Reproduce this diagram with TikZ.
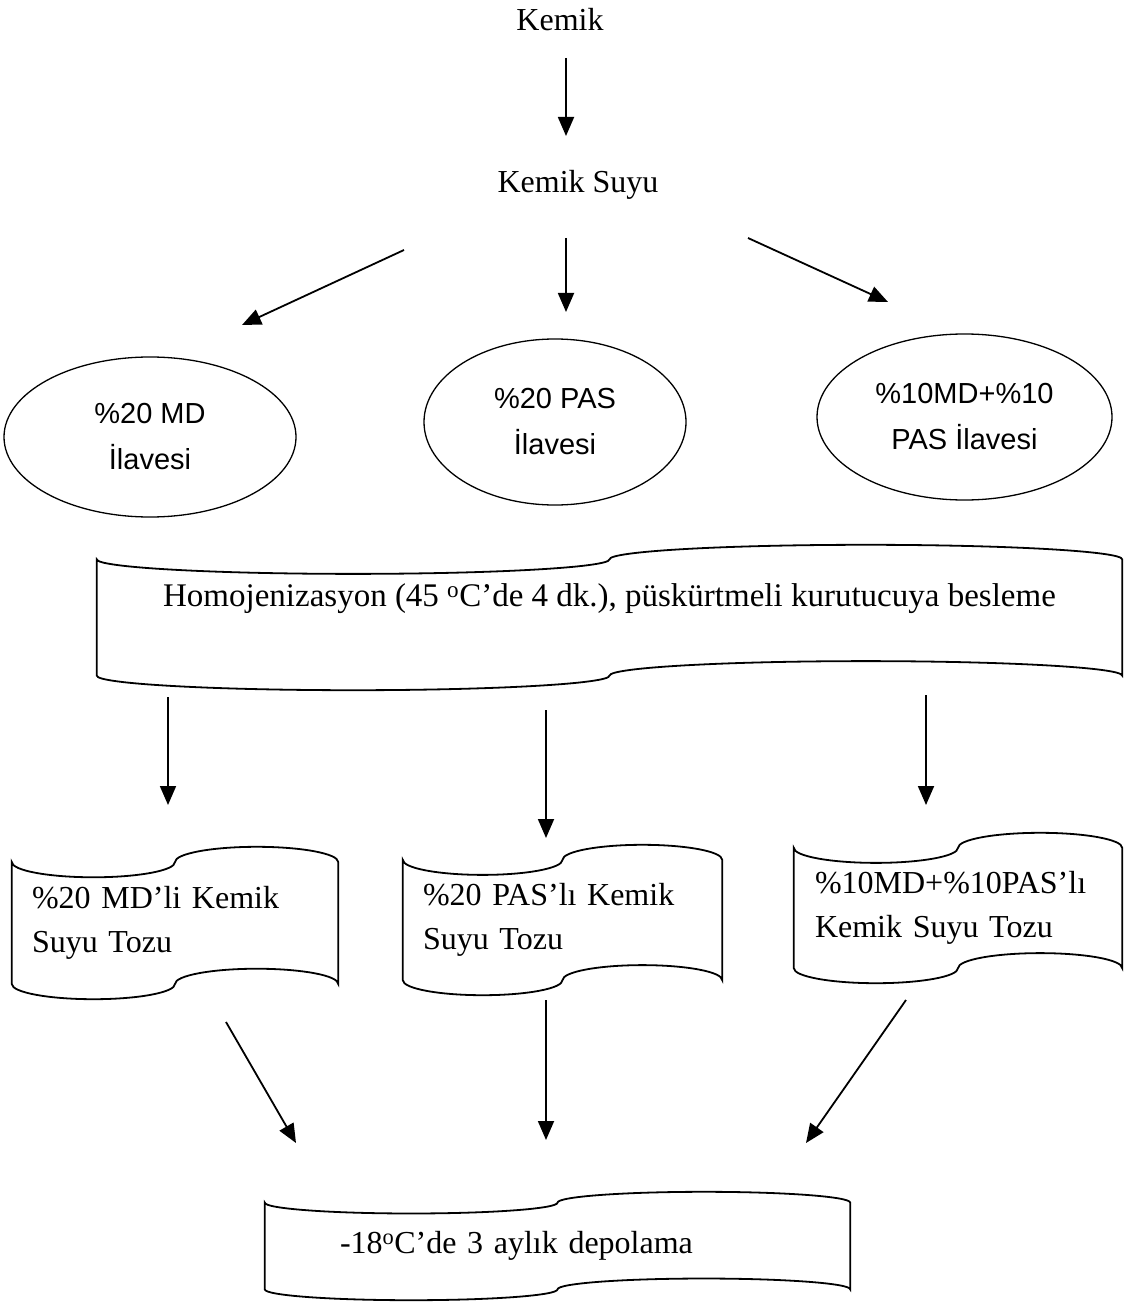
\documentclass[tikz,border=0pt]{standalone}
\usepackage{fontspec}
\setmainfont{Liberation Serif}
\newfontfamily\ovalfont{Liberation Sans}
\usetikzlibrary{arrows.meta,calc,shapes.geometric}

\tikzset{
  flow/.style={-{Triangle[width=16pt,length=19pt]}, line width=1.8pt},
  plain/.style={inner sep=0pt, font=\fontsize{32}{40}\selectfont},
  oval/.style={ellipse, draw, line width=1.3pt, inner sep=0pt, align=center,
    font=\ovalfont\fontsize{29}{46}\selectfont},
  tapebox/.style={rectangle, inner sep=0pt, font=\fontsize{32}{44}\selectfont},
  tapeline/.style={line width=1.8pt},
}

% punched tape outline round a node
\newcommand{\tapeoutline}[1]{%
  \draw[tapeline] let \p1=(#1.south west), \p2=(#1.north east),
    \n1={(\x2-\x1)/4}, \n2={(\y2-\y1)/10} in
    (\x1,{\y2-\n2}) arc[start angle=180, end angle=360, x radius=\n1, y radius=\n2]
    arc[start angle=180, end angle=0, x radius=\n1, y radius=\n2]
    -- (\x2,{\y1+\n2})
    arc[start angle=0, end angle=180, x radius=\n1, y radius=\n2]
    arc[start angle=0, end angle=-180, x radius=\n1, y radius=\n2]
    -- cycle;}

\begin{document}
\begin{tikzpicture}[x=1pt,y=-1pt]
  \useasboundingbox (0,0) rectangle (1128,1305);

  \node[plain] (kemik) at (560,20) {Kemik};
  \node[plain] (suyu) at (578,185) {Kemik Suyu};

  % additives
  \node[oval, minimum width=292pt, minimum height=160pt] (md) at (150,437) {\%20 MD\\İlavesi};
  \node[oval, minimum width=262pt, minimum height=166pt] (pas) at (555,422) {\%20 PAS\\İlavesi};
  \node[oval, minimum width=295pt, minimum height=166pt] (mix) at (964.5,417) {\%10MD+\%10\\PAS İlavesi};

  % homogenisation
  \node[tapebox, font=\fontsize{33}{44}\selectfont, minimum width=1025pt, minimum height=145pt,
    text depth=45pt, align=center]
    (homo) at (609.5,617.5) {Homojenizasyon (45 \textsuperscript{o}C’de 4 dk.), püskürtmeli kurutucuya besleme};

  % powders
  \node[tapebox, minimum width=326pt, minimum height=152pt, text width=286pt, align=left]
    (mdtoz) at (175,923) {\%20 MD’li Kemik\\Suyu Tozu};
  \node[tapebox, minimum width=319pt, minimum height=150pt, text width=279pt, align=left]
    (pastoz) at (562.5,920) {\%20 PAS’lı Kemik\\Suyu Tozu};
  \node[tapebox, minimum width=328pt, minimum height=150pt, text width=286pt, align=left]
    (mixtoz) at (958,908) {\%10MD+\%10PAS’lı\\Kemik Suyu Tozu};

  % storage
  \node[tapebox, minimum width=585pt, minimum height=108pt, text width=435pt, align=left]
    (depo) at (557.5,1246) {-18\textsuperscript{o}C’de 3 aylık depolama};

  \foreach \tp in {homo,mdtoz,pastoz,mixtoz,depo} {\tapeoutline{\tp}}

  \draw[flow] ($(kemik)+(6,38)$) -- ($(suyu)+(-12,-49)$);

  \draw[flow] ($(suyu)+(-174,65)$) -- ($(md)+(92,-112)$);
  \draw[flow] ($(suyu)+(-12,53)$) -- ($(pas)+(11,-110)$);
  \draw[flow] ($(suyu)+(170,53)$) -- ($(mix)+(-76.5,-115)$);

  \draw[flow] ($(homo)+(-441.5,79.5)$) -- ($(mdtoz)+(-7,-118)$);
  \draw[flow] ($(homo)+(-63.5,92.5)$) -- ($(pastoz)+(-16.5,-82)$);
  \draw[flow] ($(homo)+(316.5,77.5)$) -- ($(mixtoz)+(-32,-103)$);

  \draw[flow] ($(mdtoz)+(51,99)$) -- ($(depo)+(-261.5,-103)$);
  \draw[flow] ($(pastoz)+(-16.5,80)$) -- ($(depo)+(-11.5,-106)$);
  \draw[flow] ($(mixtoz)+(-52,92)$) -- ($(depo)+(248.5,-103)$);
\end{tikzpicture}
\end{document}
